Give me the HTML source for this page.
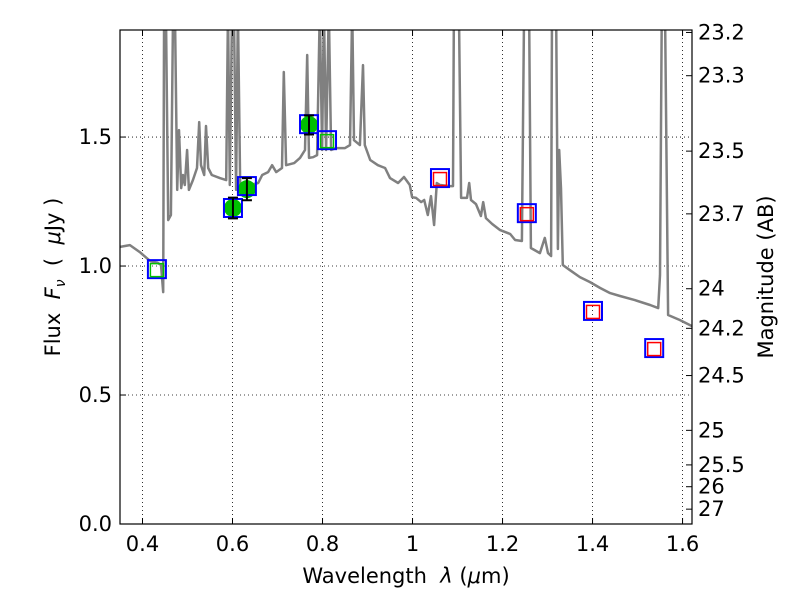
<!DOCTYPE html>
<html><head><meta charset="utf-8"><style>
html,body{margin:0;padding:0;background:#fff}
svg{display:block;font-family:"DejaVu Sans","Liberation Sans",sans-serif}
</style></head><body>
<svg id="chart" width="800" height="600" viewBox="0 0 800 600">
<rect x="0" y="0" width="800" height="600" fill="#fff"/>
<defs><clipPath id="clip"><rect x="120" y="30" width="572" height="494"/></clipPath></defs>
<g id="grid"></g>
<g id="spec" clip-path="url(#clip)"></g>
<g id="marks"></g>
<rect x="120" y="30" width="572" height="494" fill="none" stroke="#000" stroke-width="1.2"/>
<g id="axes"></g>
<text x="406" y="583" text-anchor="middle" font-size="21" xml:space="preserve">Wavelength  <tspan font-style="italic">λ</tspan> (<tspan font-style="italic">μ</tspan>m)</text>
<text transform="translate(60,277) rotate(-90)" text-anchor="middle" font-size="21" xml:space="preserve">Flux  <tspan font-style="italic">F</tspan><tspan font-style="italic" font-size="14" dy="5">ν</tspan><tspan dy="-5">  (  </tspan><tspan font-style="italic">μ</tspan>Jy )</text>
<text transform="translate(773,277) rotate(-90)" text-anchor="middle" font-size="21">Magnitude (AB)</text>
</svg>
<script>
const specLam=[0.350,0.372,0.394,0.417,0.434,0.441,0.446,0.448,0.452,0.457,0.463,0.468,0.472,0.477,0.481,0.486,0.490,0.494,0.499,0.503,0.512,0.521,0.526,0.530,0.537,0.541,0.546,0.554,0.572,0.586,0.590,0.594,0.599,0.603,0.608,0.612,0.617,0.639,0.657,0.666,0.679,0.688,0.697,0.710,0.714,0.719,0.737,0.750,0.761,0.766,0.770,0.779,0.788,0.794,0.799,0.803,0.808,0.814,0.819,0.830,0.850,0.861,0.866,0.870,0.883,0.890,0.894,0.906,0.923,0.939,0.950,0.968,0.981,0.994,0.999,1.008,1.019,1.026,1.034,1.041,1.048,1.054,1.061,1.083,1.090,1.092,1.103,1.108,1.121,1.126,1.130,1.141,1.152,1.157,1.163,1.177,1.194,1.217,1.228,1.243,1.248,1.259,1.263,1.283,1.294,1.301,1.308,1.310,1.319,1.323,1.326,1.330,1.334,1.350,1.372,1.394,1.417,1.439,1.461,1.494,1.528,1.546,1.550,1.554,1.561,1.568,1.594,1.621];
const specFlux=[1.074,1.081,1.054,1.019,1.012,1.004,0.899,2.0,2.0,1.178,1.198,2.0,2.0,1.295,1.527,1.302,1.353,1.314,1.450,1.295,1.333,1.380,1.558,1.391,1.353,1.543,1.380,1.353,1.341,1.333,2.0,1.314,2.0,2.0,1.295,2.0,1.302,1.314,1.322,1.353,1.364,1.391,1.364,1.380,1.752,1.391,1.399,1.419,1.450,1.818,1.419,1.422,1.430,2.0,1.450,2.0,1.450,2.0,1.450,1.457,1.457,1.469,2.0,1.488,1.469,1.779,1.469,1.411,1.391,1.380,1.341,1.322,1.345,1.314,1.267,1.264,1.248,1.256,1.198,1.271,1.159,1.322,1.314,1.310,1.310,2.0,2.0,1.264,1.264,1.322,1.256,1.240,1.194,1.248,1.186,1.163,1.140,1.124,1.101,1.097,2.0,2.0,1.070,1.050,1.109,1.050,1.039,2.0,2.0,1.066,1.450,1.300,1.004,0.984,0.957,0.938,0.915,0.895,0.884,0.868,0.849,0.837,0.965,2.0,2.0,0.810,0.791,0.767];
const modelLam=[0.432,0.601,0.632,0.770,0.810,1.061,1.254,1.401,1.537];
const modelFlux=[0.988,1.225,1.310,1.550,1.488,1.341,1.205,0.826,0.682];
const innerColor=["green","none","none","none","green","red","red","red","red"];
const obsLam=[0.601,0.632,0.770];
const obsFlux=[1.225,1.298,1.547];
const obsErr=[0.04,0.043,0.037];
const xTicks=[0.4,0.6,0.8,1.0,1.2,1.4,1.6];
const xTickLabels=["0.4","0.6","0.8","1","1.2","1.4","1.6"];
const yTicks=[0,0.5,1.0,1.5];
const yTickLabels=["0.0","0.5","1.0","1.5"];
const magTicks=[23.2,23.3,23.5,23.7,24,24.2,24.5,25,25.5,26,27];
const magLabels=["23.2","23.3","23.5","23.7","24","24.2","24.5","25","25.5","26","27"];

const X0=120,X1=692,Y0=524,Y1=30,XMIN=0.35,XMAX=1.621,YMIN=0,YMAX=1.915;
const sx=v=>X0+(v-XMIN)/(XMAX-XMIN)*(X1-X0);
const sy=v=>Y0-(v-YMIN)/(YMAX-YMIN)*(Y0-Y1);
const NS="http://www.w3.org/2000/svg";
function mk(tag,attrs,parent){const e=document.createElementNS(NS,tag);for(const k in attrs)e.setAttribute(k,attrs[k]);parent.appendChild(e);return e;}
const grid=document.getElementById('grid'),axes=document.getElementById('axes'),spec=document.getElementById('spec'),marks=document.getElementById('marks');
xTicks.forEach((t,i)=>{const x=sx(t);
 const g=mk('line',{x1:x,x2:x,y1:Y1,y2:Y0,stroke:'#000','stroke-width':0.8,'stroke-dasharray':'1,3'},grid);
 
 
 mk('line',{x1:x,x2:x,y1:Y0,y2:Y0-6,stroke:'#000'},axes);
 mk('line',{x1:x,x2:x,y1:Y1,y2:Y1+6,stroke:'#000'},axes);
 const tx=mk('text',{x:x,y:Y0+27,'text-anchor':'middle','font-size':21},axes);tx.textContent=xTickLabels[i];
 
 
});
yTicks.forEach((t,i)=>{const y=sy(t);
 if(t>0){const g=mk('line',{x1:X0,x2:X1,y1:y,y2:y,stroke:'#000','stroke-width':0.8,'stroke-dasharray':'1,3'},grid);
 
 }
 mk('line',{x1:X0,x2:X0+6,y1:y,y2:y,stroke:'#000'},axes);
 const tx=mk('text',{x:X0-8,y:y+7,'text-anchor':'end','font-size':21},axes);tx.textContent=yTickLabels[i];
 
 
});
magTicks.forEach((m,i)=>{const y=sy(Math.pow(10,(23.9-m)/2.5));
 mk('line',{x1:X1-6,x2:X1,y1:y,y2:y,stroke:'#000'},axes);
 const tx=mk('text',{x:X1+6,y:y+7,'font-size':21},axes);tx.textContent=magLabels[i];
 
 
});
let d='';specLam.forEach((l,i)=>{d+=(i?'L':'M')+sx(l).toFixed(1)+','+sy(specFlux[i]).toFixed(1);});
const p=mk('path',{d:d,fill:'none',stroke:'#808080','stroke-width':2.5,'stroke-linejoin':'round'},spec);


obsLam.forEach((l,i)=>{const x=sx(l),y=sy(obsFlux[i]);
 const c=mk('circle',{cx:x,cy:y,r:9,fill:'#00c000'},marks);
 
 
});
modelLam.forEach((l,i)=>{const x=sx(l),y=sy(modelFlux[i]);
 const r=mk('rect',{x:x-9,y:y-9,width:18,height:18,fill:'none',stroke:'#0000ff','stroke-width':2},marks);
 
 
 if(innerColor[i]!=='none'){const q=mk('rect',{x:x-6.5,y:y-5.5,width:13,height:13,fill:'none',stroke:innerColor[i]==='green'?'#00c000':'#ff0000','stroke-width':1.5},marks);
 
 }
});
obsLam.forEach((l,i)=>{const x=sx(l),yt=sy(obsFlux[i]+obsErr[i]),yb=sy(obsFlux[i]-obsErr[i]);
 const e=mk('path',{d:`M${x},${yt}L${x},${yb}M${x-5},${yt}L${x+5},${yt}M${x-5},${yb}L${x+5},${yb}`,stroke:'#000','stroke-width':2,fill:'none'},marks);
 
 
});
</script>
</body></html>
